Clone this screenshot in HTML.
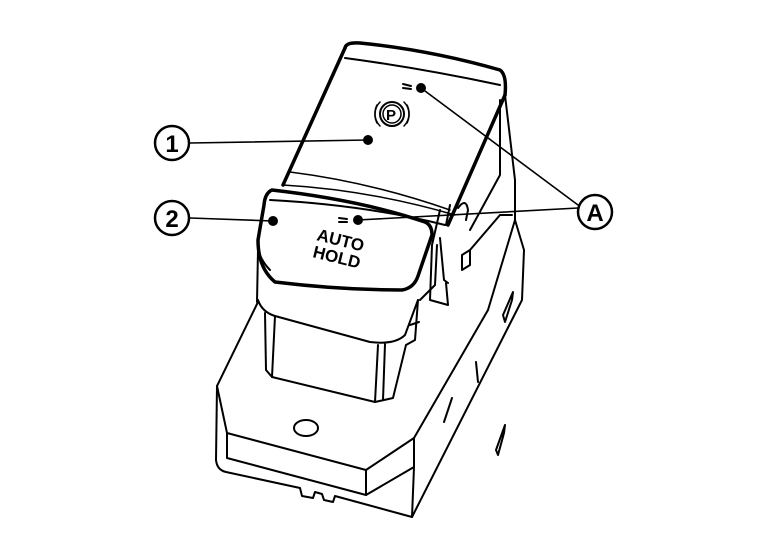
<!DOCTYPE html>
<html><head><style>html,body{margin:0;padding:0;background:#fff}svg{display:block}</style></head>
<body>
<svg width="768" height="544" viewBox="0 0 768 544" xmlns="http://www.w3.org/2000/svg" fill="none" stroke="#000" stroke-linejoin="round" stroke-linecap="round">
<g stroke-width="2">
<path d="M258,302 L217,386 L216,460 Q217,470 226,472 L300,488 L302,496 L313,498 L315,492 L322,494 L324,500 L333,502 L335,496 L412,517 L522,300 L524,250 L515,220"/>
<path d="M217,386 L227,433 L227,458 L366,495 L366,470 L227,433"/>
<path d="M366,470 L414,438 L414,467 L366,495"/>
<path d="M414,438 L488,310"/>
<path d="M414,467 L412,517"/>
<ellipse cx="306" cy="428" rx="12" ry="8"/>
<path d="M496,450 L505,425 L504,433 L498,455Z"/>
<path d="M503,315 L513,292 L512,300 L505,322Z"/>
<path d="M476,362 L478,382"/>
<path d="M444,422 L452,398"/>
<path d="M258,300 Q262,312 275,316 L370,342 Q395,345 405,335 L418,300"/>
<path d="M265,313 L266,370 L272,377 L375,402 L393,398 L406,345"/>
<path d="M275,316 L272,377"/>
<path d="M378,345 L375,402 M385,344 L383,400"/>
<path d="M406,345 L415,340 L418,300 M410,325 L419,322"/>
<path d="M420,300 L435,285 L437,245"/>
<path d="M505,95 L515,180 L515,220 L488,310"/>
<path d="M500,100 L500,175 L470,230"/>
<path d="M440,210 L432,245 L430,300 L448,305 L446,283"/>
<path d="M440,238 L444,280 L448,283"/>
<path d="M458,208 Q466,197 468,210 L466,220 M462,255 L470,250 L470,265 L462,270Z"/>
<path d="M446,225 L450,205 M470,250 L500,215 M500,215 L512,215"/>
<path d="M258,250 L257,302"/>
<path d="M345,48 Q346,42 360,43 Q430,50 500,70 Q507,75 505,95" stroke-width="3.5"/>
<path d="M345,48 L283,185" stroke-width="3.5"/>
<path d="M505,95 L448,225" stroke-width="3.5"/>
<path d="M345,58 Q420,68 500,85"/>
<path d="M290,172 Q370,182 450,210" stroke-width="1.5"/>
<path d="M283,185 Q370,190 455,215" stroke-width="1.5"/>
<path d="M270,200 Q365,205 445,225"/>
<circle cx="392" cy="114" r="12" stroke-width="2"/>
<circle cx="392" cy="114" r="9" stroke-width="1.5"/>
<path d="M380,102 A17,17 0 0 0 380,126 M404,102 A17,17 0 0 1 404,126" stroke-width="1.5"/>
<path d="M377,105 A20,20 0 0 0 377,123 M407,105 A20,20 0 0 1 407,123" stroke-width="1.5"/>
<text x="386" y="120" font-family="Liberation Sans, sans-serif" font-size="15" font-weight="bold" fill="#000" stroke="none">P</text>
<path d="M403,84 L411,86 M403,88 L411,89" stroke-width="2"/>
<path d="M272,190 Q265,193 264,205 L258,240 Q258,268 275,282 Q340,290 402,290 Q414,288 418,276 L432,235 Q432,225 425,222 Q360,200 272,190Z" stroke-width="3.5"/>
<path d="M258,250 Q262,262 270,270"/>
<text x="0" y="0" font-family="Liberation Sans, sans-serif" font-size="17" font-weight="bold" fill="#000" stroke="none" transform="translate(316,240) rotate(14)">AUTO</text>
<text x="0" y="0" font-family="Liberation Sans, sans-serif" font-size="17" font-weight="bold" fill="#000" stroke="none" transform="translate(312,257) rotate(14)">HOLD</text>
<path d="M339,218 L347,219 M339,222 L347,222" stroke-width="2"/>
</g>
<g stroke-width="1.6">
<line x1="190" y1="143" x2="368" y2="140"/>
<line x1="190" y1="218" x2="273" y2="221"/>
<line x1="578" y1="205" x2="421" y2="88"/>
<line x1="578" y1="208" x2="358" y2="220"/>
</g>
<g fill="#000" stroke="none">
<circle cx="368" cy="140" r="5"/>
<circle cx="273" cy="221" r="5"/>
<circle cx="421" cy="88" r="5"/>
<circle cx="358" cy="220" r="5"/>
</g>
<g stroke-width="2.5">
<circle cx="172" cy="143" r="17"/>
<circle cx="172" cy="218" r="17"/>
<circle cx="595" cy="212" r="17"/>
</g>
<g font-family="Liberation Sans, sans-serif" font-weight="bold" font-size="24" fill="#000" stroke="none" text-anchor="middle">
<text x="172" y="152">1</text>
<text x="172" y="227">2</text>
<text x="595" y="221">A</text>
</g>
</svg>
</body></html>
